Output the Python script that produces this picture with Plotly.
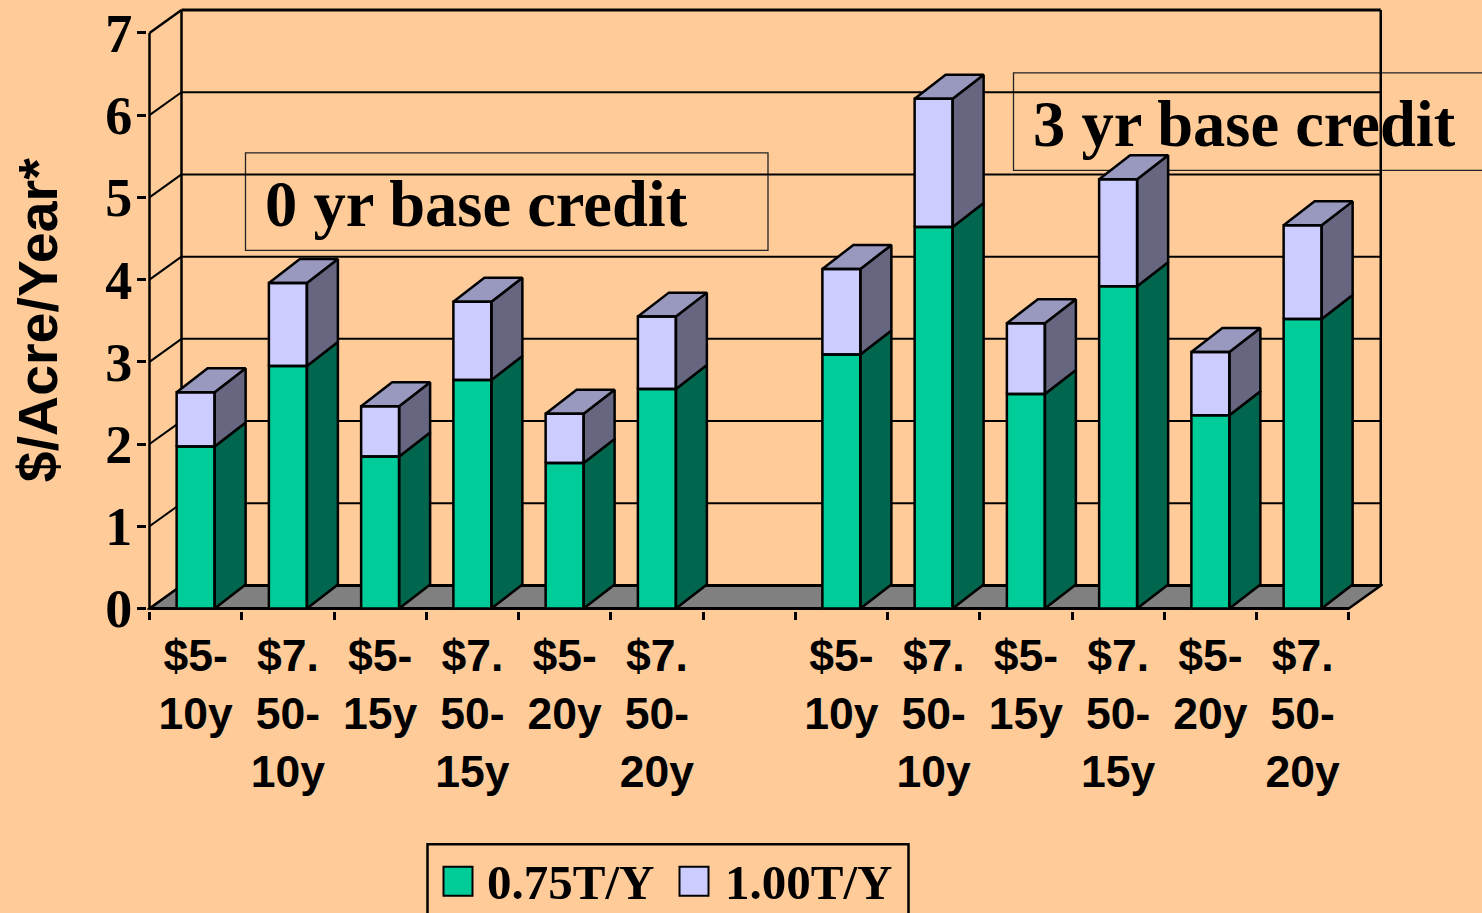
import plotly.graph_objects as go

categories = ["$5-<br>10y", "$7.<br>50-<br>10y", "$5-<br>15y", "$7.<br>50-<br>15y", "$5-<br>20y", "$7.<br>50-<br>20y", "",
              "$5-<br>10y", "$7.<br>50-<br>10y", "$5-<br>15y", "$7.<br>50-<br>15y", "$5-<br>20y", "$7.<br>50-<br>20y"]
positions = list(range(len(categories)))
bar_positions = [0, 1, 2, 3, 4, 5, 7, 8, 9, 10, 11, 12]
bar_labels = [categories[p] for p in bar_positions]
series_075 = [1.97, 2.95, 1.85, 2.78, 1.77, 2.67, 3.09, 4.64, 2.61, 3.92, 2.35, 3.52]
series_100_total = [2.63, 3.96, 2.46, 3.73, 2.37, 3.55, 4.13, 6.20, 3.47, 5.22, 3.12, 4.66]
series_100 = [round(t - g, 2) for t, g in zip(series_100_total, series_075)]
y_ticks = [0, 1, 2, 3, 4, 5, 6, 7]

W, H = 1482, 913
X_UNIT = 92.25
Y_UNIT = 82.29
WALL_DX = 32 / X_UNIT
WALL_DY = 23 / Y_UNIT
BAR_DX = 31 / X_UNIT
BAR_DY = 24 / Y_UNIT
BAR_W = 38 / X_UNIT
L, T, R_PX, B_PX = 147, 7.5, 1383, 611
AXIS_PX = 149.5
x_left = -0.5
x_right = 12.5
x_range = [x_left - (AXIS_PX - L) / X_UNIT, x_left + (R_PX - AXIS_PX) / X_UNIT]
y_range = [-(B_PX - 608.5) / Y_UNIT, (608.5 - T) / Y_UNIT]

BG = "#FFCC99"
GREEN, GREEN_SIDE = "#00CC99", "#00664D"
LAV, LAV_SIDE, LAV_TOP = "#CCCCFF", "#666680", "#9999BF"
FLOOR = "#808080"
SERIF = "Liberation Serif"
SANS = "Liberation Sans"


def px(x):
    return (x - L) / (R_PX - L)


def py(y):
    return (B_PX - y) / (B_PX - T)


def poly(points):
    xs, ys = [], []
    for p in points:
        xs += [q[0] for q in p] + [None]
        ys += [q[1] for q in p] + [None]
    return xs, ys


green_side, lav_side, lav_top, fronts = [], [], [], []
for p, g, t in zip(bar_positions, series_075, series_100_total):
    a, b = p - BAR_W / 2, p + BAR_W / 2
    green_side.append([(b, 0), (b + BAR_DX, BAR_DY), (b + BAR_DX, g + BAR_DY), (b, g), (b, 0)])
    lav_side.append([(b, g), (b + BAR_DX, g + BAR_DY), (b + BAR_DX, t + BAR_DY), (b, t), (b, g)])
    lav_top.append([(a, t), (a + BAR_DX, t + BAR_DY), (b + BAR_DX, t + BAR_DY), (b, t), (a, t)])
    fronts.append([(a, 0), (b, 0), (b, g), (a, g), (a, 0)])
    fronts.append([(a, g), (b, g), (b, t), (a, t), (a, g)])

fig = go.Figure()
fig.add_bar(x=bar_positions, y=series_075, name="0.75T/Y", width=BAR_W,
            marker=dict(color=GREEN, line=dict(width=0)))
fig.add_bar(x=bar_positions, y=series_100, name="1.00T/Y", width=BAR_W,
            marker=dict(color=LAV, line=dict(width=0)))


def add_faces(points, fill):
    xs, ys = poly(points)
    fig.add_scatter(x=xs, y=ys, mode="lines", fill="toself" if fill else None,
                    fillcolor=fill, line=dict(color="black", width=2.5),
                    showlegend=False, hoverinfo="skip")


add_faces(green_side, GREEN_SIDE)
add_faces(lav_side, LAV_SIDE)
add_faces(lav_top, LAV_TOP)
add_faces(fronts, None)

shapes = []


def seg(x0, y0, x1, y1, width=2):
    shapes.append(dict(type="line", x0=x0, y0=y0, x1=x1, y1=y1, xref="x", yref="y",
                       layer="below", line=dict(color="black", width=width)))


back_left, back_right = x_left + WALL_DX, x_right + WALL_DX
shapes.append(dict(type="path", xref="x", yref="y", layer="below", fillcolor=FLOOR,
                   line=dict(color="black", width=2.5),
                   path=f"M{x_left},0 L{back_left},{WALL_DY} L{back_right},{WALL_DY} L{x_right},0 Z"))
for v in y_ticks:
    seg(back_left, v + WALL_DY, back_right, v + WALL_DY, 3 if v in (0, 7) else 2)
    seg(x_left, v, back_left, v + WALL_DY, 2.5 if v == 7 else 2)
seg(x_left, 0, x_left, max(y_ticks), 2.5)
seg(back_left, WALL_DY, back_left, max(y_ticks) + WALL_DY, 2.5)
seg(back_right, WALL_DY, back_right, max(y_ticks) + WALL_DY, 2.5)
seg(x_left, 0, x_right, 0, 3)


def box(x0, y0, x1, y1, **kw):
    shapes.append(dict(type="rect", xref="paper", yref="paper",
                       x0=px(x0), x1=px(x1), y0=py(y1), y1=py(y0), **kw))


box(245.5, 152.5, 768, 250, layer="below", line=dict(color="#222222", width=1.3))
box(1013.5, 72.5, 1520, 170, layer="below", line=dict(color="#222222", width=1.3))
box(427.5, 844.5, 908.5, 925, layer="above", line=dict(color="black", width=2.5))
box(443.5, 867, 472.5, 896, layer="above", fillcolor=GREEN, line=dict(color="black", width=2))
box(679.5, 867, 708.5, 896, layer="above", fillcolor=LAV, line=dict(color="black", width=2))

annotations = [
    dict(text="<b>0 yr base credit</b>", xref="paper", yref="paper", x=px(263), y=py(204),
         xanchor="left", yanchor="middle", showarrow=False,
         font=dict(family=SERIF, size=64.5, color="black")),
    dict(text="<b>3 yr base credit</b>", xref="paper", yref="paper", x=px(1031), y=py(124),
         xanchor="left", yanchor="middle", showarrow=False,
         font=dict(family=SERIF, size=64.5, color="black")),
    dict(text="<b>$/Acre/Year*</b>", xref="paper", yref="paper", x=px(38), y=py(320),
         xanchor="center", yanchor="middle", textangle=-90, showarrow=False,
         font=dict(family=SANS, size=55.5, color="black")),
]

fig.update_layout(
    width=W, height=H, autosize=False, paper_bgcolor=BG, plot_bgcolor=BG,
    barmode="stack", bargap=0,
    margin=dict(l=L, t=T, r=W - R_PX, b=H - B_PX, autoexpand=False, pad=0),
    shapes=shapes, annotations=annotations,
    showlegend=True,
    legend=dict(orientation="h", traceorder="normal", xref="paper", yref="paper", x=px(427), y=py(842),
                xanchor="left", yanchor="top", bgcolor="rgba(0,0,0,0)",
                borderwidth=0, itemclick=False, itemdoubleclick=False,
                itemwidth=50, entrywidth=173, entrywidthmode="pixels",
                font=dict(family=SERIF, size=49, color="black", weight="bold")),
    xaxis=dict(range=x_range, tickvals=bar_positions, ticktext=bar_labels,
               ticks="outside", ticklen=6, tickcolor="rgba(0,0,0,0)",
               tickfont=dict(family=SANS, size=44.5, color="black", weight="bold"),
               showgrid=False, zeroline=False, showline=False, tickangle=0,
               minor=dict(tickvals=[p - 0.5 for p in positions] + [x_right], ticks="outside",
                          ticklen=8, tickwidth=2.5, tickcolor="black", showgrid=False)),
    yaxis=dict(range=y_range, tickvals=y_ticks, ticks="outside", ticklen=9, tickwidth=2.5,
               tickcolor="black", ticklabelstandoff=-6,
               tickfont=dict(family=SERIF, size=54, color="black", weight="bold"),
               showgrid=False, zeroline=False, showline=False),
)
fig.write_html("out.html", config=dict(displayModeBar=False),
               post_script="document.body.style.margin='0';document.body.style.overflow='hidden';")
